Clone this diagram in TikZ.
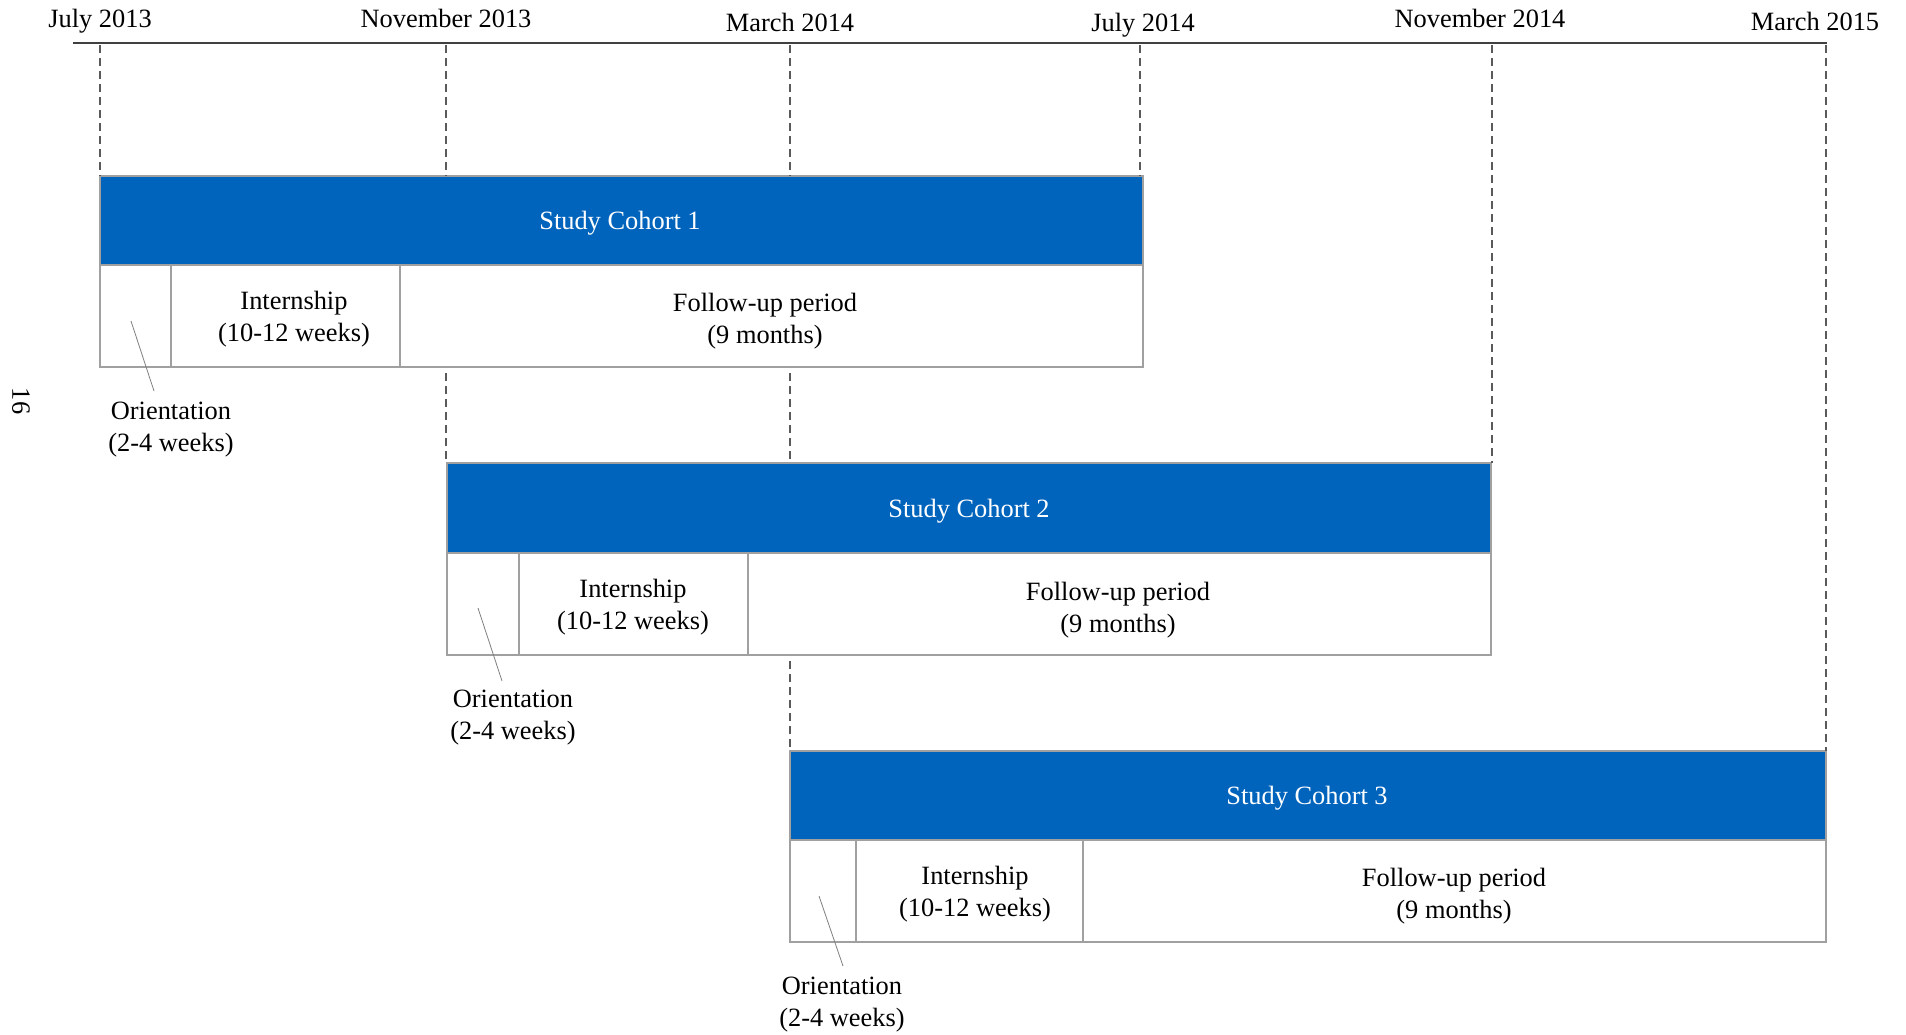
\documentclass[tikz,border=0pt]{standalone}
\usepackage{fontspec}
\setmainfont{Liberation Serif}
\definecolor{barblue}{RGB}{0,100,189}
\definecolor{boxgray}{RGB}{160,160,160}
\definecolor{dashgray}{RGB}{90,90,90}
\begin{document}
\begin{tikzpicture}[x=1pt,y=-1pt,
  txt/.style={font=\fontsize{26.4}{32}\selectfont, align=center, inner sep=0pt},
  bartxt/.style={txt, text=white},
  bluebar/.style={fill=barblue, draw=boxgray, line width=1.2pt, anchor=north west, inner sep=0pt, outer sep=0pt},
  cell/.style={draw=boxgray, line width=1.2pt, fill=white, anchor=north west, inner sep=0pt, outer sep=0pt},
  guide/.style={draw=dashgray, line width=1.2pt, dash pattern=on 8pt off 5pt},
  leader/.style={draw=gray, line width=0.8pt},
  axisline/.style={draw=black!75, line width=2.2pt}]
\useasboundingbox (0,0) rectangle (1906,1035);

% axis
\coordinate (axL) at (73,43);
\coordinate (axR) at (1827,43);
\draw[axisline] (axL) -- (axR);

% date labels
\node[txt] (d1) at (100,21) {July 2013};
\node[txt] (d2) at (446,18) {November 2013};
\node[txt] (d3) at (790,22) {March 2014};
\node[txt] (d4) at (1143,25) {July 2014};
\node[txt] (d5) at (1480,18) {November 2014};
\node[txt] (d6) at (1815,21) {March 2015};

% axis tick points
\coordinate (t1) at (100,45);
\coordinate (t2) at (446,45);
\coordinate (t3) at (790,45);
\coordinate (t4) at (1140,45);
\coordinate (t5) at (1492,45);
\coordinate (t6) at (1826,45);

% Cohort 1
\node[bluebar, minimum width=1043pt, minimum height=89pt] (c1) at (100,176) {};
\node[cell, minimum width=71pt, minimum height=102pt] (o1) at (100,265) {};
\node[cell, minimum width=229pt, minimum height=102pt] (i1) at (171,265) {};
\node[cell, minimum width=743pt, minimum height=102pt] (f1) at (400,265) {};
\node[bartxt] (c1t) at (620,223) {Study Cohort 1};
\node[txt] (i1t) at (294,319) {Internship\\(10-12 weeks)};
\node[txt] (f1t) at (765,321) {Follow-up period\\(9 months)};

% Cohort 2
\node[bluebar, minimum width=1044pt, minimum height=90pt] (c2) at (447,463) {};
\node[cell, minimum width=72pt, minimum height=102pt] (o2) at (447,553) {};
\node[cell, minimum width=229pt, minimum height=102pt] (i2) at (519,553) {};
\node[cell, minimum width=743pt, minimum height=102pt] (f2) at (748,553) {};
\node[bartxt] (c2t) at (969,511) {Study Cohort 2};
\node[txt] (i2t) at (633,607) {Internship\\(10-12 weeks)};
\node[txt] (f2t) at (1118,610) {Follow-up period\\(9 months)};

% Cohort 3
\node[bluebar, minimum width=1036pt, minimum height=89pt] (c3) at (790,751) {};
\node[cell, minimum width=66pt, minimum height=102pt] (o3) at (790,840) {};
\node[cell, minimum width=227pt, minimum height=102pt] (i3) at (856,840) {};
\node[cell, minimum width=743pt, minimum height=102pt] (f3) at (1083,840) {};
\node[bartxt] (c3t) at (1307,798) {Study Cohort 3};
\node[txt] (i3t) at (975,894) {Internship\\(10-12 weeks)};
\node[txt] (f3t) at (1454,896) {Follow-up period\\(9 months)};

% dashed guides
\draw[guide] (t1) -- (t1 |- c1.north);
\draw[guide] (t2) -- (t2 |- c1.north);
\draw[guide] (t3) -- (t3 |- c1.north);
\draw[guide] (t4) -- (t4 |- c1.north);
\draw[guide] (t2 |- f1.south) ++(0,6) -- (t2 |- c2.north);
\draw[guide] (t3 |- f1.south) ++(0,6) -- (t3 |- c2.north);
\draw[guide] (t5) -- (t5 |- c2.north);
\draw[guide] (t3 |- f2.south) ++(0,6) -- (t3 |- c3.north);
\draw[guide] (t6) -- (t6 |- c3.north);

% orientation labels
\node[txt] (ol1) at (171,430) {Orientation\\(2-4 weeks)};
\node[txt] (ol2) at (513,718) {Orientation\\(2-4 weeks)};
\node[txt] (ol3) at (842,1005) {Orientation\\(2-4 weeks)};
\coordinate (la1) at (131,321);
\coordinate (lb1) at (154,391);
\coordinate (la2) at (478,608);
\coordinate (lb2) at (502,681);
\coordinate (la3) at (819,896);
\coordinate (lb3) at (843,966);
\draw[leader] (la1) -- (lb1);
\draw[leader] (la2) -- (lb2);
\draw[leader] (la3) -- (lb3);

% page number
\node[txt, rotate=-90] (pg) at (21,401) {16};
\end{tikzpicture}
\end{document}
